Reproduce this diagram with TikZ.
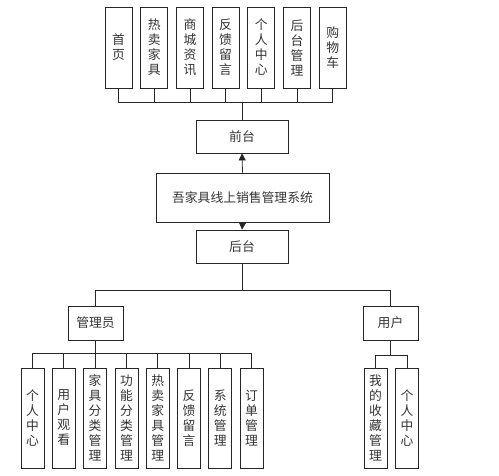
\documentclass[tikz,border=0pt]{standalone}
\usepackage{fontspec}
\newfontfamily\cjk{Noto Sans CJK SC}
\usetikzlibrary{arrows.meta}
\definecolor{txt}{HTML}{333333}
\tikzset{
  x=1pt,y=-1pt,
  box/.style={draw=black!85,line width=0.8pt,inner sep=0pt,align=center,text=txt,
    font=\cjk\fontsize{12.8}{15}\selectfont},
  vbox/.style={box,minimum width=27pt,minimum height=81pt},
  lbox/.style={box,minimum width=23pt,minimum height=100pt},
  hbox/.style={box,minimum width=92pt,minimum height=33pt},
  rbox/.style={box,minimum width=55pt,minimum height=34pt},
  link/.style={draw=black!85,line width=0.8pt},
  arr/.style={link,-{Triangle[length=7pt,width=7pt]}}
}
\begin{document}
\begin{tikzpicture}
\useasboundingbox (0,0) rectangle (499,476);
% top modules
\node[vbox] (t1) at (118.5,47.5) {首\\页};
\node[vbox] (t2) at (154.2,47.5) {热\\卖\\家\\具};
\node[vbox] (t3) at (189.9,47.5) {商\\城\\资\\讯};
\node[vbox] (t4) at (225.6,47.5) {反\\馈\\留\\言};
\node[vbox] (t5) at (261.3,47.5) {个\\人\\中\\心};
\node[vbox] (t6) at (297,47.5) {后\\台\\管\\理};
\node[vbox] (t7) at (332.7,47.5) {购\\物\\车};
\node[hbox] (front) at (242,136.5) {前台};
\node[box,minimum width=173pt,minimum height=49pt] (sys) at (242.5,197.5) {吾家具线上销售管理系统};
\node[hbox] (back) at (242,246.5) {后台};
\node[rbox] (admin) at (95.5,323) {管理员};
\node[rbox] (user) at (390.5,323) {用户};
% admin modules
\node[lbox] (a1) at (32.5,418) {个\\人\\中\\心};
\node[lbox] (a2) at (63.8,418) {用\\户\\观\\看};
\node[lbox] (a3) at (95.1,418) {家\\具\\分\\类\\管\\理};
\node[lbox] (a4) at (126.4,418) {功\\能\\分\\类\\管\\理};
\node[lbox] (a5) at (157.7,418) {热\\卖\\家\\具\\管\\理};
\node[lbox] (a6) at (189,418) {反\\馈\\留\\言};
\node[lbox] (a7) at (220.3,418) {系\\统\\管\\理};
\node[lbox] (a8) at (251.6,418) {订\\单\\管\\理};
% user modules
\node[lbox] (u1) at (375.5,418) {我\\的\\收\\藏\\管\\理};
\node[lbox] (u2) at (407,418) {个\\人\\中\\心};
% coordinates for buses
\coordinate (tb) at (242,102);
\coordinate (mb) at (242,290);
\coordinate (ab) at (95.5,353);
\coordinate (ub) at (390.5,355);
% connectors
\draw[link] (front.north) -- (tb);
\foreach \n in {t1,t2,t3,t4,t5,t6,t7} \draw[link] (tb) -| (\n.south);
\draw[arr] (sys.north) -- (front.south);
\draw[arr] (sys.south) -- (back.north);
\draw[link] (back.south) -- (mb);
\draw[link] (mb) -| (admin.north);
\draw[link] (mb) -| (user.north);
\draw[link] (admin.south) -- (ab);
\foreach \n in {a1,a2,a3,a4,a5,a6,a7,a8} \draw[link] (ab) -| (\n.north);
\draw[link] (user.south) -- (ub);
\foreach \n in {u1,u2} \draw[link] (ub) -| (\n.north);
\end{tikzpicture}
\end{document}
